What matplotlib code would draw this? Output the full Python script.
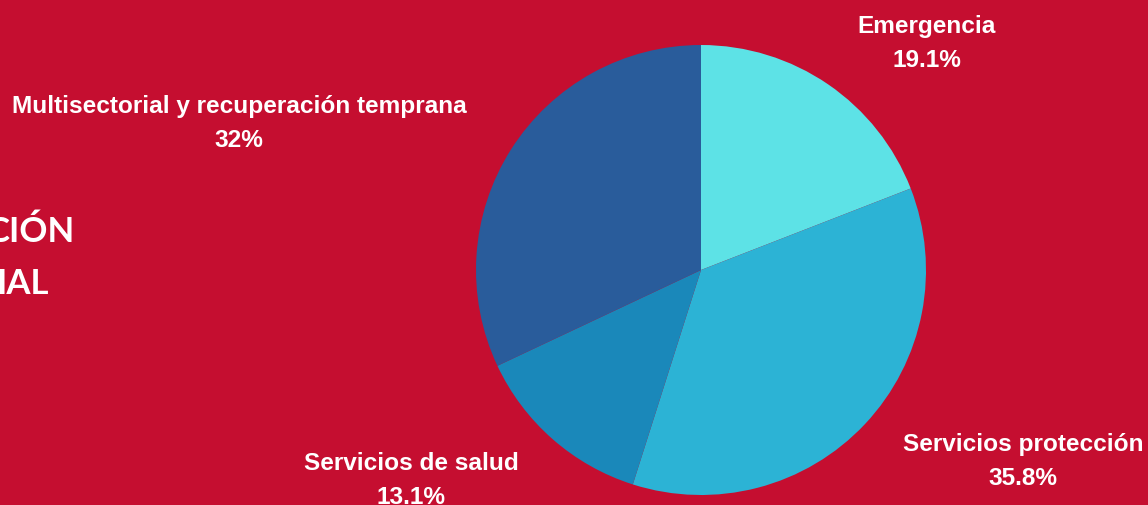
import matplotlib.pyplot as plt

# data
categories = ["Emergencia", "Servicios protección", "Servicios de salud",
              "Multisectorial y recuperación temprana"]
shares = [19.1, 35.8, 13.1, 32.0]
pct_labels = ["19.1%", "35.8%", "13.1%", "32%"]
colors = ["#5DE2E6", "#2CB3D5", "#1A88BA", "#295C9B"]

BG = "#C50E30"
W, H = 1148, 505

fig = plt.figure(figsize=(W / 100, H / 100), dpi=100, facecolor=BG)
ax = fig.add_axes([0, 0, 1, 1])
ax.set_facecolor(BG)

ax.pie(shares, colors=colors, startangle=90, counterclock=False,
       center=(701, 235), radius=225, wedgeprops=dict(linewidth=0))

ax.set_xlim(0, W)
ax.set_ylim(0, H)
ax.set_aspect("equal", adjustable="box")
ax.axis("off")

# labels placed by hand, in pixel coords (y from bottom)
label_pos = [(927, 461.5), (1023, 43.5), (411, 24.5), (239, 381.5)]
for name, pct, (x, y) in zip(categories, pct_labels, label_pos):
    ax.text(x, y, name + "\n" + pct, ha="center", va="center",
            color="white", fontsize=17.6, fontweight="bold",
            family="Liberation Sans", linespacing=1.65)

# partial title text cut off by the left edge (as in the reference)
ax.text(75, 273, "CIÓN", ha="right", va="center", color="white",
        fontsize=25, fontweight="bold", family="Lato")
ax.text(49, 221, "IAL", ha="right", va="center", color="white",
        fontsize=25, fontweight="bold", family="Lato")

fig.savefig("out.png", dpi=100, facecolor=BG)
